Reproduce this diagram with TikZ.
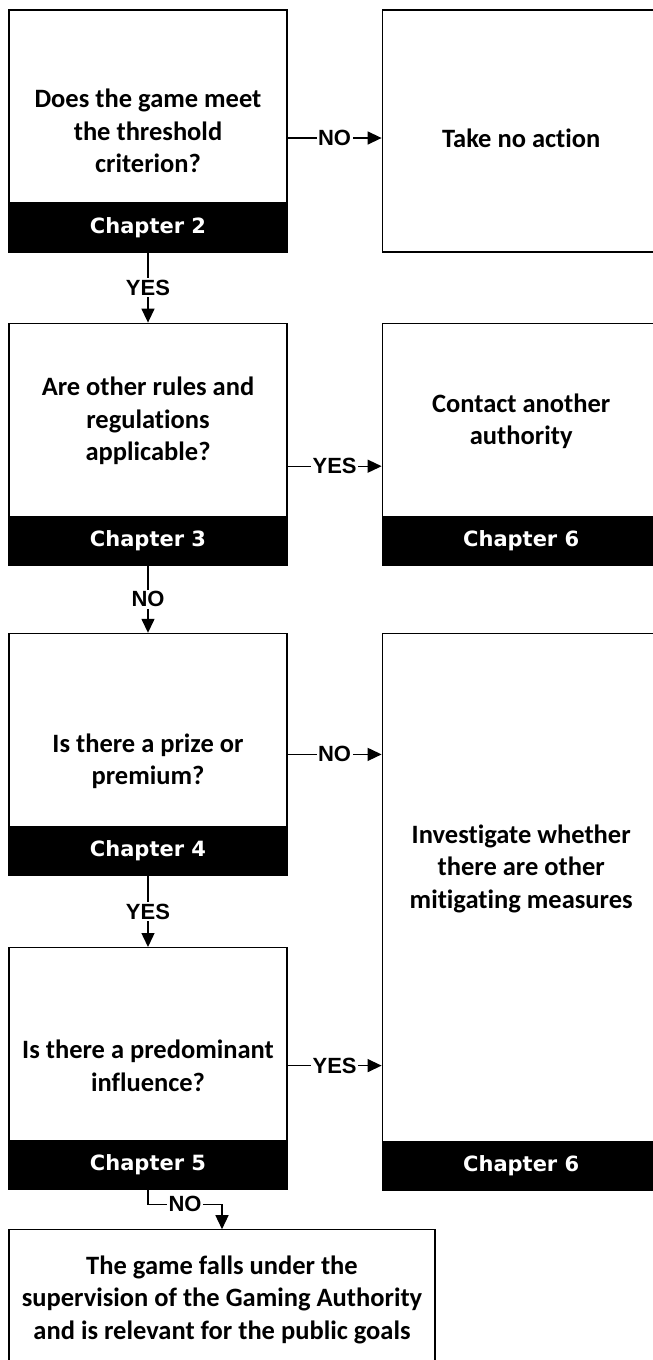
\documentclass[tikz,border=0pt]{standalone}
\usepackage{fontspec}
\setmainfont{Carlito}[Ligatures=NoCommon]
\newfontfamily\chapfont{DejaVu Sans}
\newfontfamily\lblfont{Liberation Sans}
\usetikzlibrary{positioning, arrows.meta}

\begin{document}
\begin{tikzpicture}[
    box/.style={draw, line width=1.2pt, minimum width=278pt, minimum height=242pt, inner sep=0pt},
    band/.style={fill=black, text=white, minimum width=278pt, minimum height=50pt, inner sep=0pt, anchor=south, font=\chapfont\bfseries\fontsize{21}{25}\selectfont},
    qtext/.style={align=center, font=\bfseries\fontsize{26.5}{32.5}\selectfont},
    lbl/.style={fill=white, inner sep=1.5pt, font=\lblfont\bfseries\fontsize{22}{26}\selectfont},
    arr/.style={-{Triangle[length=14pt, width=13pt]}, line width=1.4pt}
]
\clip (0,0) rectangle (653pt,-1360pt);

% --- Left column: questions ---
\node[box] (thresh) at (148pt,-131pt) {};
\node[box, below=70pt of thresh] (rules) {};
\node[box, below=67pt of rules] (prize) {};
\node[box, below=71pt of prize] (influence) {};

% --- Right column: outcomes ---
\node[box, right=94pt of thresh] (noaction) {};
\node[box, right=94pt of rules] (contact) {};
\node[box, minimum height=557pt, right=94pt of prize.north east, anchor=north west] (investigate) {};
\node[box, minimum width=426pt, minimum height=140pt, below=39pt of influence.south west, anchor=north west] (supervise) {};

% --- Chapter bands ---
\node[band] (thresh-ch) at (thresh.south) {Chapter 2};
\node[band] (rules-ch) at (rules.south) {Chapter 3};
\node[band] (prize-ch) at (prize.south) {Chapter 4};
\node[band] (influence-ch) at (influence.south) {Chapter 5};
\node[band] (contact-ch) at (contact.south) {Chapter 6};
\node[band] (investigate-ch) at (investigate.south) {Chapter 6};

% --- Texts ---
\node[qtext] (thresh-t) at (thresh.center) {Does the game meet\\the threshold\\criterion?};
\node[qtext] (rules-t) at ([yshift=23pt]rules.center) {Are other rules and\\regulations\\applicable?};
\node[qtext] (prize-t) at ([yshift=-7pt]prize.center) {Is there a prize or\\premium?};
\node[qtext] (influence-t) at ([yshift=3pt]influence.center) {Is there a predominant\\influence?};
\node[qtext] (noaction-t) at ([yshift=-7pt]noaction.center) {Take no action};
\node[qtext] (contact-t) at ([yshift=23pt]contact.center) {Contact another\\authority};
\node[qtext] (investigate-t) at ([yshift=43pt]investigate.center) {Investigate whether\\there are other\\mitigating measures};
\node[qtext] (supervise-t) at (supervise.center) {The game falls under the\\supervision of the Gaming Authority\\and is relevant for the public goals};

% --- Edges: down the left column ---
\draw[arr] (thresh-ch.south) -- node[lbl]{YES} (rules.north);
\draw[arr] (rules-ch.south) -- node[lbl]{NO} (prize.north);
\draw[arr] (prize-ch.south) -- node[lbl]{YES} (influence.north);
\draw[arr] (influence-ch.south) -- ++(0,-14pt) -| node[lbl, pos=0.25]{NO} (supervise.north);

% --- Edges: across ---
\draw[arr] ([yshift=-7pt]thresh.east) -- node[lbl]{NO} ([yshift=-7pt]thresh.east -| noaction.west);
\draw[arr] ([yshift=-22pt]rules.east) -- node[lbl]{YES} ([yshift=-22pt]rules.east -| contact.west);
\draw[arr] (prize.east) -- node[lbl]{NO} (prize.east -| investigate.west);
\draw[arr] ([yshift=3pt]influence.east) -- node[lbl]{YES} ([yshift=3pt]influence.east -| investigate.west);

\end{tikzpicture}
\end{document}
